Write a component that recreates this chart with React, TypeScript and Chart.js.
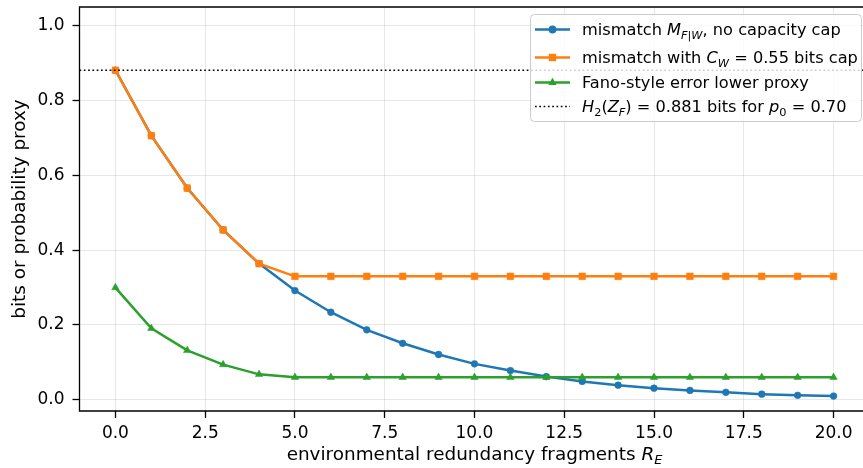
import React, { useEffect, useRef } from 'react';
import { Chart, registerables } from 'chart.js';

Chart.register(...registerables);

// ---------- data ----------
const redundancyFragments = [0, 1, 2, 3, 4, 5, 6, 7, 8, 9, 10, 11, 12, 13, 14, 15, 16, 17, 18, 19, 20];
const mismatchNoCap = [0.881, 0.706, 0.566, 0.454, 0.364, 0.292, 0.234, 0.187, 0.151, 0.121, 0.096, 0.078, 0.062, 0.049, 0.039, 0.031, 0.025, 0.020, 0.015, 0.012, 0.010];
const mismatchCapped = [0.881, 0.706, 0.566, 0.454, 0.364, 0.330, 0.330, 0.330, 0.330, 0.330, 0.330, 0.330, 0.330, 0.330, 0.330, 0.330, 0.330, 0.330, 0.330, 0.330, 0.330];
const fanoLowerProxy = [0.300, 0.191, 0.132, 0.094, 0.068, 0.060, 0.060, 0.060, 0.060, 0.060, 0.060, 0.060, 0.060, 0.060, 0.060, 0.060, 0.060, 0.060, 0.060, 0.060, 0.060];
const binaryEntropyBits = 0.881;
const xTickValues = [0, 2.5, 5, 7.5, 10, 12.5, 15, 17.5, 20];
const yTickValues = [0, 0.2, 0.4, 0.6, 0.8, 1.0];
const X_MIN = -1;
const X_MAX = 20.82;
const X_FULL_MAX = 21;
const Y_MIN = -0.03;
const Y_MAX = 1.05;

type Seg = { t: string; it?: boolean; sub?: boolean };
const legendLabels: Seg[][] = [
  [{ t: 'mismatch ' }, { t: 'M', it: true }, { t: 'F|W', it: true, sub: true }, { t: ', no capacity cap' }],
  [{ t: 'mismatch with ' }, { t: 'C', it: true }, { t: 'W', it: true, sub: true }, { t: ' = 0.55 bits cap' }],
  [{ t: 'Fano-style error lower proxy' }],
  [
    { t: 'H', it: true }, { t: '2', sub: true }, { t: '(' }, { t: 'Z', it: true }, { t: 'F', it: true, sub: true },
    { t: ') = 0.881 bits for ' }, { t: 'p', it: true }, { t: '0', sub: true }, { t: ' = 0.70' },
  ],
];
const xAxisTitle: Seg[] = [{ t: 'environmental redundancy fragments ' }, { t: 'R', it: true }, { t: 'E', it: true, sub: true }];
const yAxisTitle = 'bits or probability proxy';

const FONT = '"DejaVu Sans", sans-serif';
const BLUE = '#1f77b4';
const ORANGE = '#ff7f0e';
const GREEN = '#2ca02c';
const TICK_SIZE = 17;
const LABEL_SIZE = 18.4;
const LEGEND_SIZE = 16.2;

function drawRich(ctx: CanvasRenderingContext2D, segs: Seg[], x: number, y: number, size: number, align: 'left' | 'center') {
  const fontFor = (s: Seg) => `${s.it ? 'italic ' : ''}${s.sub ? size * 0.7 : size}px ${FONT}`;
  let total = 0;
  for (const s of segs) {
    ctx.font = fontFor(s);
    total += ctx.measureText(s.t).width;
  }
  let cx = align === 'center' ? x - total / 2 : x;
  ctx.textAlign = 'left';
  ctx.textBaseline = 'alphabetic';
  for (const s of segs) {
    ctx.font = fontFor(s);
    ctx.fillText(s.t, cx, y + (s.sub ? size * 0.22 : 0));
    cx += ctx.measureText(s.t).width;
  }
}

function drawMarker(ctx: CanvasRenderingContext2D, style: string, x: number, y: number, r: number, color: string) {
  ctx.fillStyle = color;
  ctx.beginPath();
  if (style === 'circle') {
    ctx.arc(x, y, r, 0, Math.PI * 2);
  } else if (style === 'rect') {
    const s = Math.SQRT1_2 * r;
    ctx.rect(x - s, y - s, 2 * s, 2 * s);
  } else if (style === 'triangle') {
    ctx.moveTo(x, y - r);
    ctx.lineTo(x + r * Math.cos(Math.PI / 6), y + r * 0.5);
    ctx.lineTo(x - r * Math.cos(Math.PI / 6), y + r * 0.5);
    ctx.closePath();
  }
  ctx.fill();
}

const spinesPlugin = {
  id: 'spines',
  afterDatasetsDraw(chart: any) {
    const { ctx, chartArea: a } = chart;
    ctx.save();
    ctx.strokeStyle = '#000';
    ctx.lineWidth = 1.3;
    ctx.beginPath();
    ctx.moveTo(a.right + 2, a.top);
    ctx.lineTo(a.left, a.top);
    ctx.lineTo(a.left, a.bottom);
    ctx.lineTo(a.right + 2, a.bottom);
    ctx.stroke();
    ctx.restore();
  },
};

const textPlugin = {
  id: 'mplText',
  afterDraw(chart: any) {
    const ctx: CanvasRenderingContext2D = chart.ctx;
    ctx.save();
    // x axis title
    ctx.fillStyle = '#000';
    const xs = chart.scales.x;
    const mid = (redundancyFragments[0] + redundancyFragments[redundancyFragments.length - 1]) / 2;
    drawRich(ctx, xAxisTitle, xs.getPixelForValue(mid), 460, LABEL_SIZE, 'center');

    // legend
    const bx = 530.5, by = 14.5, bw = 331, bh = 107, rr = 4;
    ctx.beginPath();
    ctx.moveTo(bx + rr, by);
    ctx.lineTo(bx + bw - rr, by);
    ctx.quadraticCurveTo(bx + bw, by, bx + bw, by + rr);
    ctx.lineTo(bx + bw, by + bh - rr);
    ctx.quadraticCurveTo(bx + bw, by + bh, bx + bw - rr, by + bh);
    ctx.lineTo(bx + rr, by + bh);
    ctx.quadraticCurveTo(bx, by + bh, bx, by + bh - rr);
    ctx.lineTo(bx, by + rr);
    ctx.quadraticCurveTo(bx, by, bx + rr, by);
    ctx.closePath();
    ctx.fillStyle = 'rgba(255,255,255,0.8)';
    ctx.fill();
    ctx.strokeStyle = '#cccccc';
    ctx.lineWidth = 1;
    ctx.stroke();

    const rowY = [29.5, 57.5, 82.5, 106.5];
    const datasets = chart.data.datasets;
    [0, 1, 2, 3].forEach((di, i) => {
      const ds = datasets[di];
      const y = rowY[i];
      ctx.save();
      ctx.strokeStyle = ds.borderColor;
      ctx.lineWidth = ds.borderWidth;
      ctx.setLineDash(ds.borderDash || []);
      ctx.beginPath();
      ctx.moveTo(535, y);
      ctx.lineTo(570, y);
      ctx.stroke();
      ctx.restore();
      if (ds.pointRadius > 0) drawMarker(ctx, ds.pointStyle, 552.5, y, ds.pointRadius + 0.5, ds.borderColor);
      ctx.fillStyle = '#000';
      drawRich(ctx, legendLabels[i], 582, y + 5.7, LEGEND_SIZE, 'left');
    });
    ctx.restore();
  },
};

export default function App() {
  const canvasRef = useRef<HTMLCanvasElement | null>(null);

  useEffect(() => {
    if (!canvasRef.current) return;
    const toPts = (vals: number[]) => redundancyFragments.map((x, i) => ({ x, y: vals[i] }));
    const chart = new Chart(canvasRef.current, {
      type: 'line',
      data: {
        datasets: [
          {
            label: 'mismatch M_F|W, no capacity cap',
            data: toPts(mismatchNoCap),
            borderColor: BLUE,
            backgroundColor: BLUE,
            borderWidth: 2.5,
            pointStyle: 'circle',
            pointRadius: 3.4,
            pointBorderWidth: 0.5,
            pointBackgroundColor: BLUE,
            order: 4,
          } as any,
          {
            label: 'mismatch with C_W = 0.55 bits cap',
            data: toPts(mismatchCapped),
            borderColor: ORANGE,
            backgroundColor: ORANGE,
            borderWidth: 2.5,
            pointStyle: 'rect',
            pointRadius: 4.7,
            pointBorderWidth: 0.5,
            pointBackgroundColor: ORANGE,
            order: 3,
          },
          {
            label: 'Fano-style error lower proxy',
            data: toPts(fanoLowerProxy),
            borderColor: GREEN,
            backgroundColor: GREEN,
            borderWidth: 2.5,
            pointStyle: 'triangle',
            pointRadius: 4.3,
            pointBorderWidth: 0.5,
            pointBackgroundColor: GREEN,
            order: 2,
          },
          {
            label: 'H2(Z_F) = 0.881 bits for p0 = 0.70',
            data: [
              { x: X_MIN, y: binaryEntropyBits },
              { x: X_FULL_MAX, y: binaryEntropyBits },
            ],
            borderColor: '#000',
            borderWidth: 1.6,
            borderDash: [1.7, 2.6],
            pointRadius: 0,
            order: 1,
          },
        ],
      },
      options: {
        responsive: false,
        animation: false,
        devicePixelRatio: 1,
        layout: { autoPadding: false, padding: { top: 7, left: 0, right: 0, bottom: 0 } },
        plugins: { legend: { display: false }, tooltip: { enabled: false } },
        elements: { line: { tension: 0 } },
        scales: {
          x: {
            type: 'linear',
            min: X_MIN,
            max: X_MAX,
            afterBuildTicks: (s: any) => {
              s.ticks = xTickValues.map((v) => ({ value: v }));
            },
            afterFit: (s: any) => {
              s.height = 57;
              s.paddingLeft = 0;
              s.paddingRight = 0;
              s.paddingTop = 0;
              s.paddingBottom = 0;
            },
            ticks: {
              callback: (v: any) => Number(v).toFixed(1),
              color: '#000',
              font: { family: FONT, size: TICK_SIZE },
              padding: 5,
              maxRotation: 0,
              autoSkip: false,
            },
            grid: {
              color: 'rgba(176,176,176,0.3)',
              lineWidth: 1,
              drawTicks: true,
              tickLength: 7,
              tickColor: '#000',
              tickWidth: 1.3,
            },
            border: { display: false },
          },
          y: {
            type: 'linear',
            min: Y_MIN,
            max: Y_MAX,
            afterBuildTicks: (s: any) => {
              s.ticks = yTickValues.map((v) => ({ value: v }));
            },
            afterFit: (s: any) => {
              s.width = 79.5;
              s.paddingLeft = 0;
              s.paddingRight = 0;
              s.paddingTop = 0;
              s.paddingBottom = 0;
            },
            ticks: {
              callback: (v: any) => Number(v).toFixed(1),
              color: '#000',
              font: { family: FONT, size: TICK_SIZE },
              padding: 8,
              autoSkip: false,
            },
            grid: {
              color: 'rgba(176,176,176,0.3)',
              lineWidth: 1,
              drawTicks: true,
              tickLength: 7,
              tickColor: '#000',
              tickWidth: 1.3,
            },
            border: { display: false },
            title: {
              display: true,
              text: yAxisTitle,
              color: '#000',
              font: { family: FONT, size: LABEL_SIZE },
              padding: { top: 9, bottom: 0 },
            },
          },
        },
      },
      plugins: [spinesPlugin, textPlugin],
    } as any);
    return () => chart.destroy();
  }, []);

  return (
    <div style={{ position: 'absolute', left: 0, top: 0, width: 863, height: 468, background: '#fff' }}>
      <canvas ref={canvasRef} width={863} height={468} style={{ display: 'block', width: 863, height: 468 }} />
    </div>
  );
}
